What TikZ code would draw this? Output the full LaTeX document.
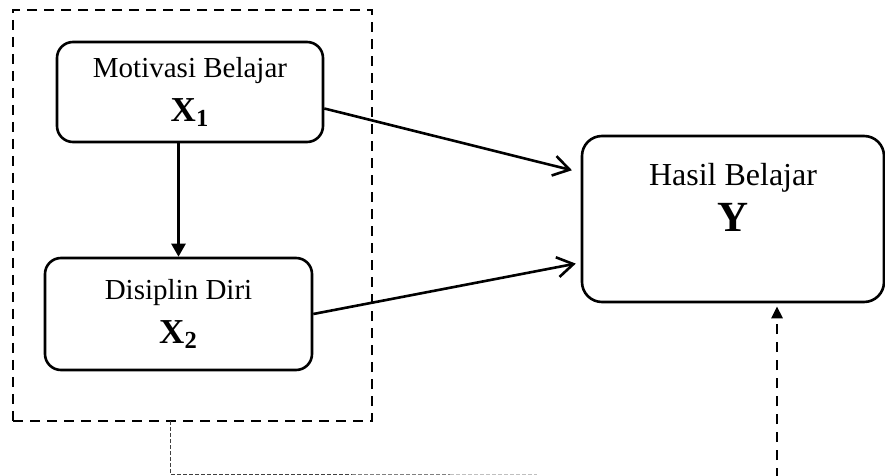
\documentclass[tikz,border=0pt]{standalone}
\usepackage{fontspec}
\setmainfont{Liberation Serif}
\usepackage{tikz}
\usetikzlibrary{arrows.meta}

\begin{document}
\begin{tikzpicture}[x=0.5pt,y=-0.5pt]
      \useasboundingbox (0,0) rectangle (885,476);

      % dashed frame round the two X variables
      \node[draw,dashed,line width=1.4pt,dash pattern=on 5pt off 3.5pt,
        minimum width=179.5pt,minimum height=205.5pt,inner sep=0pt] (grp) at (192.5,215.5) {};

      \begin{scope}[every node/.style={draw,line width=1.3pt,align=center,inner sep=0pt}]
        \node[rounded corners=8pt,minimum width=133pt,minimum height=50pt,font=\fontsize{14.5}{21}\selectfont]
          (x1) at (190,92) {Motivasi Belajar\\[1pt]{\fontsize{17.5}{21}\selectfont\bfseries X\textsubscript{1}}};
        \node[rounded corners=8pt,minimum width=133.5pt,minimum height=56pt,font=\fontsize{14.5}{21}\selectfont]
          (x2) at (178.5,314) {Disiplin Diri\\[1pt]{\fontsize{17.5}{21}\selectfont\bfseries X\textsubscript{2}}};
        \node[rounded corners=10pt,minimum width=151pt,minimum height=83pt] (y) at (733,219) {};
      \end{scope}
      \node[align=center,font=\fontsize{16}{23}\selectfont] (ytext) at (733,197)
        {Hasil Belajar\\{\fontsize{21.5}{23}\selectfont\bfseries Y}};

      \coordinate (tap) at (170,421);
      \coordinate (bend) at (170,474);
      \coordinate (mid1) at (352,474);
      \coordinate (mid2) at (450,474);
      \coordinate (tail) at (537,474);
      \coordinate (yin) at (777,478);

      \begin{scope}[line width=1.3pt]
        \draw[-{Triangle[length=6.5pt,width=7pt]}] (x1.south -| x2) -- (x2.north);
        \draw[-{Straight Barb[length=8pt,width=10pt]},shorten >=4.5pt] (x1.-7.7) -- (y.163.8);
        \draw[-{Straight Barb[length=8pt,width=10pt]},shorten >=2.5pt] (x2.east) -- (y.196.9);
        \draw[dashed,dash pattern=on 5pt off 4pt,-{Triangle[length=6pt,width=5.5pt]},shorten >=1.5pt]
          (yin) -- (yin |- y.south);
      \end{scope}

      \begin{scope}[line width=0.5pt,dash pattern=on 2pt off 1pt]
        \draw[black!75] (tap) -- (bend) -- (mid1);
        \draw[black!50] (mid1) -- (mid2);
        \draw[black!25] (mid2) -- (tail);
      \end{scope}
    \end{tikzpicture}
\end{document}
